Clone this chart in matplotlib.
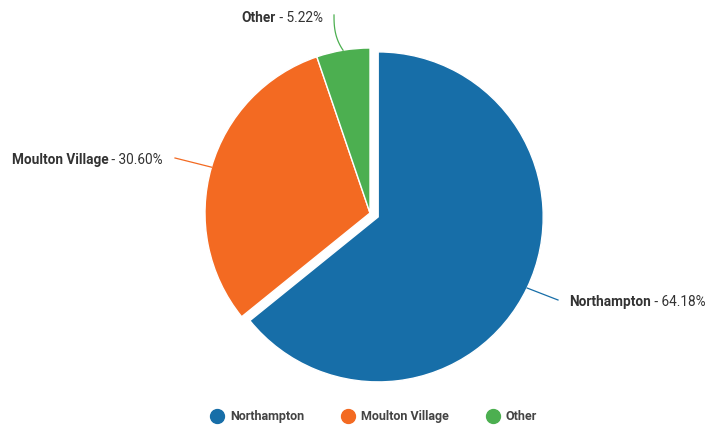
import numpy as np
import matplotlib.pyplot as plt
from matplotlib.lines import Line2D

names = ["Northampton", "Moulton Village", "Other"]
shares = [64.18, 30.60, 5.22]
colors = ["#176ea8", "#f36a22", "#4caf50"]

W, H = 708, 430
CX, CY, R = 370, 213, 165

plt.rcParams['font.family'] = ['Roboto', 'DejaVu Sans']

fig = plt.figure(figsize=(W / 100, H / 100), dpi=100)
ax = fig.add_axes([0, 0, 1, 1])
ax.axis('off')


def px(x, y):
    # pixel position -> axes data units
    return (x - CX) / R, (CY - y) / R


wedges, _ = ax.pie(shares, colors=colors, startangle=90, counterclock=False,
                   explode=[0.055, 0, 0], radius=1,
                   wedgeprops=dict(linewidth=1, edgecolor='white'))
ax.set_xlim(-CX / R, (W - CX) / R)
ax.set_ylim(-(H - CY) / R, CY / R)

# label anchor (pixels) and side
label_pos = [(569, 302, 'left'), (163, 160, 'right'), (323, 18, 'right')]
bend = [(558, 300), (175, 158), (334, 15)]
fs = 9.8

fig.canvas.draw()
renderer = fig.canvas.get_renderer()
inv = ax.transData.inverted()

for w, name, pct, col, (lx, ly, side), (bx, by) in zip(wedges, names, shares, colors, label_pos, bend):
    ang = np.deg2rad((w.theta1 + w.theta2) / 2)
    cx, cy = w.center
    ex, ey = cx + np.cos(ang), cy + np.sin(ang)
    mx, my = px(bx, by)
    if name == "Other":
        t = np.linspace(0, 1, 30)
        ys = my + (ey - my) * (t ** 0.6)
        xs = mx + (ex - mx) * (t ** 1.6)
        ax.plot(xs, ys, color=col, lw=0.9, clip_on=False)
    else:
        ax.plot([ex, mx], [ey, my], color=col, lw=0.9, clip_on=False)
    tx, ty = px(lx, ly)
    val = " - %.2f%%" % pct
    if side == 'left':
        t1 = ax.text(tx, ty, name, ha='left', va='center', fontsize=fs,
                     fontweight='bold', color='#333333')
        bb = t1.get_window_extent(renderer)
        x2 = inv.transform((bb.x1, 0))[0]
        ax.text(x2, ty, val, ha='left', va='center', fontsize=fs, color='#333333')
    else:
        t2 = ax.text(tx, ty, val, ha='right', va='center', fontsize=fs, color='#333333')
        bb = t2.get_window_extent(renderer)
        x1 = inv.transform((bb.x0, 0))[0]
        ax.text(x1, ty, name, ha='right', va='center', fontsize=fs,
                fontweight='bold', color='#333333')

handles = [Line2D([], [], marker='o', linestyle='', markersize=10,
                  markerfacecolor=c, markeredgecolor=c) for c in colors]
fig.legend(handles, names, loc='lower center', bbox_to_anchor=(0.527, -0.01),
           ncol=3, frameon=False, handletextpad=0.45, handlelength=1.2,
           columnspacing=2.9, labelcolor='#444444',
           prop=dict(weight='bold', size=9))

fig.savefig("out.png", dpi=100)
